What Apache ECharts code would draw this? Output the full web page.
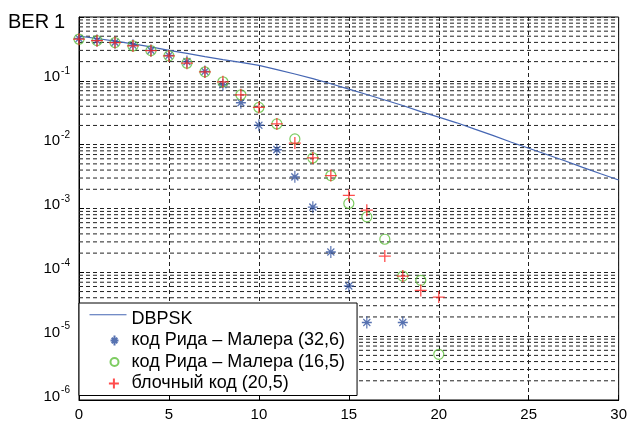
<!DOCTYPE html>
<html><head><meta charset="utf-8">
<script src="https://cdn.jsdelivr.net/npm/echarts@6/dist/echarts.min.js"></script>
<style>html,body{margin:0;padding:0;background:#fff}#c{width:630px;height:424px}</style>
</head><body><div id="c"></div>
<script>
// ---- data ----
const snr = [0,1,2,3,4,5,6,7,8,9,10,11,12,13,14,15,16,17,18,19,20,21,22,23,24,25,26,27,28,29,30];
const dbpsk = [0.50,0.46,0.42,0.38,0.34,0.30,0.27,0.24,0.215,0.195,0.175,0.15,0.128,0.108,0.09,0.074,0.061,0.05,0.041,0.033,0.027,0.022,0.0175,0.014,0.011,0.0088,0.007,0.0056,0.0044,0.0035,0.0028];

const rm32X = [0,1,2,3,4,5,6,7,8,9,10,11,12,13,14,15,16,18];
const rm32  = [0.46,0.43,0.40,0.36,0.30,0.25,0.20,0.14,0.0866,0.0453,0.0202,0.00835,0.00313,0.00105,0.000208,0.000061,0.0000164,0.0000164];

const rm16X = [0,1,2,3,4,5,6,7,8,9,10,11,12,13,14,15,16,17,18,19,20];
const rm16  = [0.449,0.426,0.397,0.352,0.297,0.246,0.189,0.138,0.0965,0.0604,0.0383,0.0211,0.0123,0.0062,0.00328,0.0012,0.00074,0.00033,0.0000875,0.000075,0.0000052];

const blkX = [0,1,2,3,4,5,6,7,8,9,10,11,12,13,14,15,16,17,18,19,20];
const blk  = [0.449,0.426,0.397,0.352,0.297,0.246,0.189,0.138,0.0965,0.0604,0.0383,0.0211,0.0106,0.0062,0.00328,0.0016,0.00094,0.00018,0.0000875,0.000052,0.000041];

const names = ['DBPSK','код Рида – Малера (32,6)','код Рида – Малера (16,5)','блочный код (20,5)'];
const yAxisName = 'BER';
const decades = [-6,-5,-4,-3,-2,-1];
const minorMultipliers = [2,3,4,5,6,7,8,9];

// ---- build ----
const pair = (xs, ys) => xs.map((x,i)=>[x, ys[i]]);
const FONT = 'Liberation Sans, Arial, sans-serif';
const GRID_COLOR = '#222';
const DASH = [4,3];

const minorValues = [];
decades.forEach(e => minorMultipliers.forEach(m => minorValues.push(m*Math.pow(10,e))));
const gridSeries = minorValues.map(v => ({
  type:'line', data:[[0,v],[30,v]], symbol:'none', silent:true, z:1,
  lineStyle:{type:DASH, color:GRID_COLOR, width:1}, tooltip:{show:false}
}));

// plot symbols
const starPath = 'path://M5,0L5,12M0,6L10,6M1.5,2.5L8.5,9.5M1.5,9.5L8.5,2.5';
const plusPath = 'path://M6,0L6,12M0,6L12,6';
const circPath = 'path://M10,5A5,5,0,1,1,0,5A5,5,0,1,1,10,5Z';
// legend icons (37x10 boxes, glyph placed to the right like the reference)
const BOX = 'M0,0L0,0M37,10L37,10';
const lgLine = 'path://' + BOX + 'M0,0.2L37,0.2L37,1.2L0,1.2Z';
const lgStar = 'path://' + BOX + 'M25,0L25,10M21,5L29,5M22.2,2.2L27.8,7.8M22.2,7.8L27.8,2.2';
const lgCirc = 'path://' + BOX + 'M29,5A4,4,0,1,1,21,5A4,4,0,1,1,29,5Z';
const lgPlus = 'path://' + BOX + 'M25,-0.5L25,10.5M19.5,5L30.5,5';

const chart = echarts.init(document.getElementById('c'), null, {renderer:'canvas'});
chart.setOption({
  animation:false,
  backgroundColor:'#fff',
  title:{text:yAxisName, left:8, top:12, padding:0,
    textStyle:{fontFamily:FONT, fontSize:20, fontWeight:'normal', color:'#000'}},
  grid:{left:79, right:8, top:17, bottom:24, show:true, borderColor:'#000', borderWidth:1, backgroundColor:'#fff'},
  xAxis:{type:'value', min:0, max:30, interval:5,
    axisLine:{show:true, lineStyle:{color:'#000'}},
    axisTick:{show:true, inside:true, length:5, lineStyle:{color:'#000'}},
    axisLabel:{margin:7, fontFamily:FONT, fontSize:15, color:'#000'},
    splitLine:{show:true, lineStyle:{type:DASH, color:GRID_COLOR, width:1}}},
  yAxis:{type:'log', logBase:10, min:1e-6, max:1,
    axisLine:{show:true, lineStyle:{color:'#000'}},
    axisTick:{show:true, inside:true, length:5, lineStyle:{color:'#000'}},
    axisLabel:{margin:9, fontFamily:FONT, color:'#000',
      formatter:v=>{
        if (Math.abs(v-1)<1e-9) return '{one|1}';
        const e = Math.round(Math.log10(v));
        return '{b|10}{s|' + e + '}';
      },
      rich:{
        b:{fontFamily:FONT, fontSize:15, lineHeight:16, padding:[0,0,7,0], color:'#000'},
        s:{fontFamily:FONT, fontSize:10, lineHeight:10, padding:[0,0,19,1], color:'#000'},
        one:{fontFamily:FONT, fontSize:20, lineHeight:20, padding:[11,5,0,0], color:'#000'}
      }},
    splitLine:{show:true, lineStyle:{type:DASH, color:GRID_COLOR, width:1}}},
  legend:{
    orient:'vertical', left:79, top:303,
    padding:[7,12,3,8], itemGap:3.5, itemWidth:37, itemHeight:10,
    backgroundColor:'#fff', borderColor:'#000', borderWidth:1, borderRadius:0,
    textStyle:{fontFamily:FONT, fontSize:18, lineHeight:18, color:'#000'},
    data:[
      {name:names[0], icon:lgLine},
      {name:names[1], icon:lgStar},
      {name:names[2], icon:lgCirc},
      {name:names[3], icon:lgPlus}
    ]
  },
  series:gridSeries.concat([
    {name:names[0], type:'line', data:pair(snr,dbpsk), symbol:'none', z:3,
      lineStyle:{color:'#4566b3', width:1.2}, itemStyle:{color:'#4566b3'}},
    {name:names[1], type:'scatter', data:pair(rm32X,rm32), symbol:starPath, symbolSize:[10,12], z:4,
      itemStyle:{color:'none', borderColor:'#2d4f9e', borderWidth:1.3}},
    {name:names[2], type:'scatter', data:pair(rm16X,rm16), symbol:circPath, symbolSize:10, z:5,
      itemStyle:{color:'none', borderColor:'#5cbf3a', borderWidth:1.2}},
    {name:names[3], type:'scatter', data:pair(blkX,blk), symbol:plusPath, symbolSize:12, z:6,
      itemStyle:{color:'none', borderColor:'#ff2020', borderWidth:1.3}}
  ])
});
</script></body></html>
